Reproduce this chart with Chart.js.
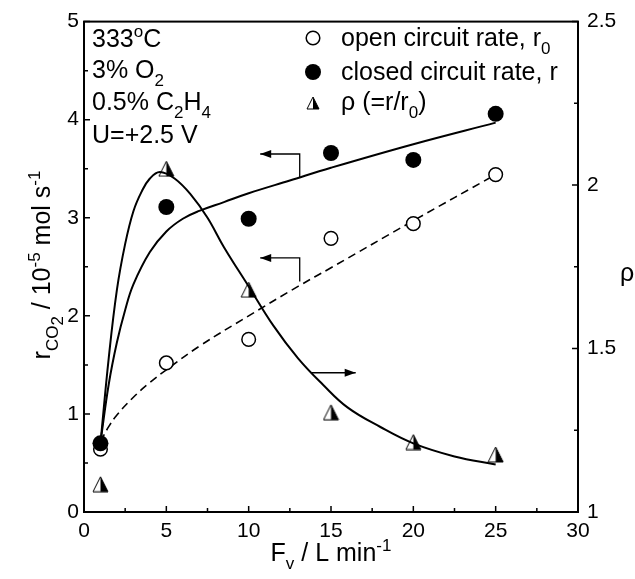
<!DOCTYPE html>
<html>
<head>
<meta charset="utf-8">
<script src="https://cdn.jsdelivr.net/npm/chart.js@4.4.0/dist/chart.umd.min.js"></script>
<style>
  html, body { margin: 0; padding: 0; background: #fff; }
  canvas { display: block; }
</style>
</head>
<body>
<canvas id="rateChart" width="635" height="579" style="width:635px;height:579px"></canvas>
<script>
// measured points
const flowRates = [1, 5, 10, 15, 20, 25];
const openRate = [0.64, 1.52, 1.76, 2.79, 2.94, 3.44];
const closedRate = [0.70, 3.11, 2.99, 3.66, 3.59, 4.06];
const rhoValues = [1.085, 2.05, 1.68, 1.305, 1.214, 1.176];

// fitted curves
const closedFitX = [1, 1.5, 2, 2.5, 3, 4, 5, 6, 7, 8.5, 10, 12.5, 15, 20, 25];
const closedFitY = [0.71, 1.3, 1.73, 2.06, 2.32, 2.65, 2.86, 2.99, 3.07, 3.16, 3.25, 3.38, 3.51, 3.75, 3.97];
const openFitX = [1, 1.5, 2, 3, 4, 5, 7, 10, 13, 15, 20, 25];
const openFitY = [0.72, 0.87, 0.99, 1.17, 1.32, 1.45, 1.69, 2.0, 2.3, 2.49, 2.97, 3.44];
const rhoFitX = [1, 1.5, 2, 2.5, 3, 3.5, 4, 4.6, 5.5, 6.5, 7.5, 8.5, 10, 11.5, 13, 14.5, 16, 18, 20, 22.5, 25];
const rhoFitY = [1.21, 1.47, 1.68, 1.82, 1.92, 1.98, 2.02, 2.04, 2.02, 1.97, 1.9, 1.81, 1.69, 1.57, 1.47, 1.39, 1.32, 1.26, 1.21, 1.17, 1.145];

// tick labels
const xTicks = [0, 5, 10, 15, 20, 25, 30];
const leftTicks = [0, 1, 2, 3, 4, 5];
const rightTicks = [1, 1.5, 2, 2.5];

// arrows pointing to the axis of each curve, in data units of the left axis
const arrows = [
    [[13.1, 3.41], [13.1, 3.65], [10.7, 3.65]],
    [[13.1, 2.35], [13.1, 2.59], [10.7, 2.59]],
    [[13.8, 1.42], [16.5, 1.42]]
];

const FONT = "'Liberation Sans', Arial, Helvetica, sans-serif";
const TEXT_SIZE = 25;

function toXY(xs, ys) {
    return xs.map((x, i) => ({ x: x, y: ys[i] }));
}

// half filled triangle marker
function makeTriangle(size) {
    const c = document.createElement('canvas');
    c.width = size + 2;
    c.height = size + 2;
    const g = c.getContext('2d');
    const m = (size + 2) / 2;
    g.fillStyle = '#000';
    g.beginPath();
    g.moveTo(m, 1);
    g.lineTo(size + 1, size + 1);
    g.lineTo(m, size + 1);
    g.closePath();
    g.fill();
    g.strokeStyle = '#000';
    g.lineWidth = 1;
    g.beginPath();
    g.moveTo(m, 1);
    g.lineTo(size + 1, size + 1);
    g.lineTo(1, size + 1);
    g.closePath();
    g.stroke();
    return c;
}

// text with sub / superscripts; parts = [text, level]
function richWidth(ctx, parts, size) {
    let w = 0;
    parts.forEach(p => {
        const s = p[1] === 0 ? size : size * 0.68;
        ctx.font = s + 'px ' + FONT;
        w += ctx.measureText(p[0]).width;
    });
    return w;
}

function drawRich(ctx, x, y, parts, size) {
    parts.forEach(p => {
        const lvl = p[1];
        const s = lvl === 0 ? size : size * 0.68;
        let dy = 0;
        if (lvl === 1) dy = size * 0.3;
        if (lvl === 2) dy = size * 0.5;
        if (lvl === -1) dy = -size * 0.42;
        ctx.font = s + 'px ' + FONT;
        ctx.fillText(p[0], x, y + dy);
        x += ctx.measureText(p[0]).width;
    });
}

const decorPlugin = {
    id: 'decor',
    afterDraw(chart) {
        const ctx = chart.ctx;
        const a = chart.chartArea;
        const sx = chart.scales.x, sy = chart.scales.y, sr = chart.scales.y2;
        ctx.save();
        ctx.strokeStyle = '#000';
        ctx.fillStyle = '#000';

        // frame
        ctx.lineWidth = 2;
        ctx.strokeRect(a.left, a.top, a.right - a.left, a.bottom - a.top);

        // inward ticks
        ctx.lineWidth = 1.5;
        ctx.beginPath();
        xTicks.forEach((v, i) => {
            const px = sx.getPixelForValue(v);
            ctx.moveTo(px, a.bottom); ctx.lineTo(px, a.bottom - 6);
            if (i < xTicks.length - 1) {
                const pm = sx.getPixelForValue(v + 2.5);
                ctx.moveTo(pm, a.bottom); ctx.lineTo(pm, a.bottom - 4);
            }
        });
        leftTicks.forEach((v, i) => {
            const py = sy.getPixelForValue(v);
            ctx.moveTo(a.left, py); ctx.lineTo(a.left + 6, py);
            if (i < leftTicks.length - 1) {
                const pm = sy.getPixelForValue(v + 0.5);
                ctx.moveTo(a.left, pm); ctx.lineTo(a.left + 4, pm);
            }
        });
        rightTicks.forEach((v, i) => {
            const py = sr.getPixelForValue(v);
            ctx.moveTo(a.right, py); ctx.lineTo(a.right - 6, py);
            if (i < rightTicks.length - 1) {
                const pm = sr.getPixelForValue(v + 0.25);
                ctx.moveTo(a.right, pm); ctx.lineTo(a.right - 4, pm);
            }
        });
        ctx.stroke();

        // arrows
        ctx.lineWidth = 1.3;
        arrows.forEach(path => {
            const pts = path.map(p => [sx.getPixelForValue(p[0]), sy.getPixelForValue(p[1])]);
            ctx.beginPath();
            ctx.moveTo(pts[0][0], pts[0][1]);
            for (let i = 1; i < pts.length; i++) ctx.lineTo(pts[i][0], pts[i][1]);
            ctx.stroke();
            const tip = pts[pts.length - 1];
            const prev = pts[pts.length - 2];
            const dir = Math.sign(tip[0] - prev[0]);
            ctx.beginPath();
            ctx.moveTo(tip[0], tip[1]);
            ctx.lineTo(tip[0] - dir * 11, tip[1] - 4);
            ctx.lineTo(tip[0] - dir * 11, tip[1] + 4);
            ctx.closePath();
            ctx.fill();
        });

        ctx.textBaseline = 'alphabetic';
        ctx.textAlign = 'left';

        // conditions
        const condX = 92;
        drawRich(ctx, condX, 47, [['333', 0], ['o', -1], ['C', 0]], TEXT_SIZE);
        drawRich(ctx, condX, 78, [['3% O', 0], ['2', 1]], TEXT_SIZE);
        drawRich(ctx, condX, 110, [['0.5% C', 0], ['2', 1], ['H', 0], ['4', 1]], TEXT_SIZE);
        drawRich(ctx, condX, 143, [['U=+2.5 V', 0]], TEXT_SIZE);

        // legend
        const lx = 313, tx = 341;
        ctx.lineWidth = 1.5;
        ctx.beginPath();
        ctx.arc(lx, 38, 6.8, 0, Math.PI * 2);
        ctx.stroke();
        ctx.beginPath();
        ctx.arc(lx, 72, 8, 0, Math.PI * 2);
        ctx.fill();
        ctx.drawImage(legendTri, lx - legendTri.width / 2, 103 - legendTri.height / 2);
        drawRich(ctx, tx, 46, [['open circuit rate, r', 0], ['0', 1]], TEXT_SIZE);
        drawRich(ctx, tx, 80, [['closed circuit rate, r', 0]], TEXT_SIZE);
        drawRich(ctx, tx, 110, [['\u03c1 (=r/r', 0], ['0', 1], [')', 0]], TEXT_SIZE);

        // x axis title
        const xParts = [['F', 0], ['v', 1], [' / L min', 0], ['-1', -1]];
        const xw = richWidth(ctx, xParts, TEXT_SIZE);
        drawRich(ctx, (a.left + a.right) / 2 - xw / 2, 561, xParts, TEXT_SIZE);

        // left axis title
        const yParts = [['r', 0], ['CO', 1], ['2', 2], [' / 10', 0], ['-5', -1], [' mol s', 0], ['-1', -1]];
        const yw = richWidth(ctx, yParts, TEXT_SIZE);
        ctx.save();
        ctx.translate(50, 265);
        ctx.rotate(-Math.PI / 2);
        drawRich(ctx, -yw / 2, 0, yParts, TEXT_SIZE);
        ctx.restore();

        // right axis title
        ctx.font = TEXT_SIZE + 'px ' + FONT;
        ctx.textAlign = 'center';
        ctx.fillText('\u03c1', 627, 281);

        ctx.restore();
    }
};

const triMarker = makeTriangle(15);
const legendTri = makeTriangle(12);

const tickFont = { family: FONT, size: 21 };

const ctx = document.getElementById('rateChart').getContext('2d');
const rateChart = new Chart(ctx, {
    type: 'scatter',
    data: {
        datasets: [
            {
                label: 'closed circuit rate, r',
                data: toXY(flowRates, closedRate),
                yAxisID: 'y',
                pointStyle: 'circle',
                pointRadius: 8,
                backgroundColor: '#000',
                borderColor: '#000',
                borderWidth: 0
            },
            {
                label: 'open circuit rate, r0',
                data: toXY(flowRates, openRate),
                yAxisID: 'y',
                pointStyle: 'circle',
                pointRadius: 6.8,
                backgroundColor: '#fff',
                borderColor: '#000',
                borderWidth: 1.5
            },
            {
                label: 'rho',
                data: toXY(flowRates, rhoValues),
                yAxisID: 'y2',
                pointStyle: triMarker
            },
            {
                label: 'closed fit',
                data: toXY(closedFitX, closedFitY),
                yAxisID: 'y',
                showLine: true,
                pointRadius: 0,
                borderColor: '#000',
                borderWidth: 2,
                tension: 0.4
            },
            {
                label: 'open fit',
                data: toXY(openFitX, openFitY),
                yAxisID: 'y',
                showLine: true,
                pointRadius: 0,
                borderColor: '#000',
                borderWidth: 1.6,
                borderDash: [8, 5],
                tension: 0.4
            },
            {
                label: 'rho fit',
                data: toXY(rhoFitX, rhoFitY),
                yAxisID: 'y2',
                showLine: true,
                pointRadius: 0,
                borderColor: '#000',
                borderWidth: 2,
                tension: 0.4
            }
        ]
    },
    options: {
        responsive: false,
        animation: false,
        layout: { padding: { top: 18, left: 0, right: 0, bottom: 0 } },
        plugins: {
            legend: { display: false },
            tooltip: { enabled: false }
        },
        scales: {
            x: {
                type: 'linear',
                position: 'bottom',
                min: 0,
                max: 30,
                afterBuildTicks: s => { s.ticks = xTicks.map(v => ({ value: v })); },
                afterFit: s => { s.height = 67; },
                ticks: { font: tickFont, color: '#000', padding: 7, maxRotation: 0, autoSkip: false },
                grid: { display: false, drawTicks: false },
                border: { display: false }
            },
            y: {
                type: 'linear',
                position: 'left',
                min: 0,
                max: 5,
                afterBuildTicks: s => { s.ticks = leftTicks.map(v => ({ value: v })); },
                afterFit: s => { s.width = 84; },
                ticks: { font: tickFont, color: '#000', padding: 5 },
                grid: { display: false, drawTicks: false },
                border: { display: false }
            },
            y2: {
                type: 'linear',
                position: 'right',
                min: 1,
                max: 2.5,
                afterBuildTicks: s => { s.ticks = rightTicks.map(v => ({ value: v })); },
                afterFit: s => { s.width = 57; },
                ticks: {
                    font: tickFont, color: '#000', padding: 9,
                    callback: v => String(v)
                },
                grid: { display: false, drawTicks: false },
                border: { display: false }
            }
        }
    },
    plugins: [decorPlugin]
});
</script>
</body>
</html>
